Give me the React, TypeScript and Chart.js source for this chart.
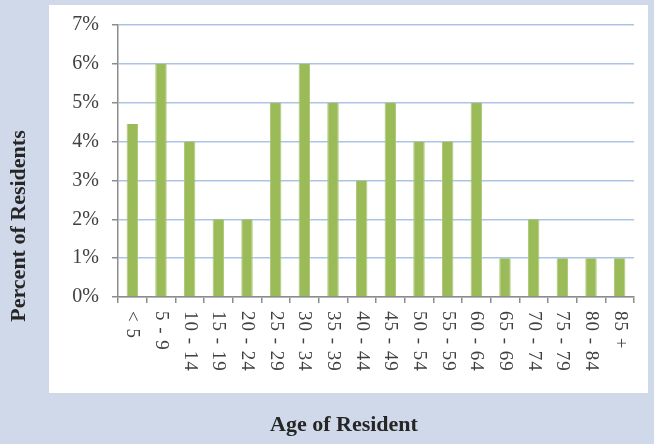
import React, { useEffect, useRef } from 'react';
import { Chart, registerables } from 'chart.js';
Chart.register(...registerables);

const categories = ['< 5', '5 - 9', '10 - 14', '15 - 19', '20 - 24', '25 - 29', '30 - 34', '35 - 39', '40 - 44', '45 - 49', '50 - 54', '55 - 59', '60 - 64', '65 - 69', '70 - 74', '75 - 79', '80 - 84', '85 +'];
const percentValues = [4.45, 6, 4, 2, 2, 5, 6, 5, 3, 5, 4, 4, 5, 1, 2, 1, 1, 1];
const yTickValues = [0, 1, 2, 3, 4, 5, 6, 7];
const xAxisTitle = 'Age of Resident';
const yAxisTitle = 'Percent of Residents';

const FONT = '"Liberation Serif", "Times New Roman", serif';

export default function App() {
  const ref = useRef<HTMLCanvasElement>(null);
  useEffect(() => {
    document.body.style.margin = '0';
    const bgPlugin = {
      id: 'bg',
      beforeDraw(chart: any) {
        const { ctx, width, height } = chart;
        ctx.save();
        ctx.fillStyle = '#d0d9ea';
        ctx.fillRect(0, 0, width, height);
        ctx.fillStyle = '#ffffff';
        ctx.fillRect(49, 5, 599, 388);
        ctx.restore();
      },
    };
    const labelPlugin = {
      id: 'xlabels',
      afterDraw(chart: any) {
        const x = chart.scales.x;
        const ctx = chart.ctx;
        ctx.save();
        ctx.font = `19px ${FONT}`;
        ctx.letterSpacing = '1px';
        ctx.fillStyle = '#404040';
        ctx.textAlign = 'left';
        ctx.textBaseline = 'middle';
        categories.forEach((c, i) => {
          const px = x.getPixelForValue(i);
          ctx.save();
          ctx.translate(px, x.top + 14);
          ctx.rotate(Math.PI / 2);
          ctx.fillText(c, 0, 0);
          ctx.restore();
        });
        ctx.letterSpacing = '0px';
        ctx.font = `bold 22px ${FONT}`;
        ctx.fillStyle = '#262626';
        ctx.textAlign = 'center';
        ctx.textBaseline = 'middle';
        ctx.fillText(xAxisTitle, 344, 425);
        ctx.save();
        ctx.translate(19, 226);
        ctx.rotate(-Math.PI / 2);
        ctx.fillText(yAxisTitle, 0, 0);
        ctx.restore();
        ctx.restore();
      },
    };
    const chart = new Chart(ref.current!, {
      type: 'bar',
      data: {
        labels: categories,
        datasets: [
          {
            data: percentValues,
            backgroundColor: '#9bbb59',
            borderColor: '#a9c873',
            borderWidth: { left: 1, right: 1, top: 0, bottom: 0 },
            barPercentage: 0.4,
            categoryPercentage: 1,
          },
        ],
      },
      options: {
        responsive: false,
        animation: false,
        layout: { padding: { top: 24, right: 20, left: 0, bottom: 0 } },
        plugins: { legend: { display: false }, tooltip: { enabled: false } },
        scales: {
          x: {
            grid: { display: true, drawOnChartArea: false, drawTicks: true, tickLength: 6, color: '#8c8c8c', lineWidth: 1.5 },
            border: { color: '#8c8c8c', width: 1.5 },
            ticks: { display: false },
            afterFit(s: any) { s.height = 147; },
          },
          y: {
            min: 0,
            max: 7,
            afterBuildTicks(s: any) { s.ticks = yTickValues.map((v) => ({ value: v })); },
            ticks: { callback: (v: any) => v + '%', font: { family: FONT, size: 20 }, color: '#404040', padding: 13 },
            grid: { color: '#adc3e6', lineWidth: 1.5, tickColor: '#8c8c8c', tickLength: 6 },
            border: { color: '#8c8c8c', width: 1.5 },
            afterFit(s: any) { s.width = 118; },
          },
        },
      },
      plugins: [bgPlugin, labelPlugin],
    });
    return () => chart.destroy();
  }, []);
  return <canvas ref={ref} width={654} height={444} style={{ display: 'block' }} />;
}
